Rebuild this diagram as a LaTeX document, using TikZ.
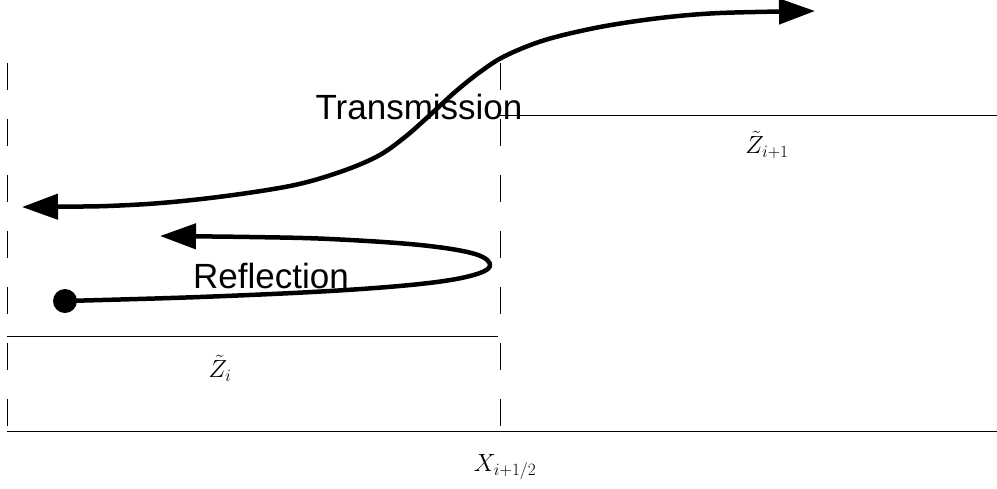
\documentclass[tikz,border=0pt]{standalone}
\usepackage{fontspec}
\newfontfamily\labelfont{Liberation Sans}
\usetikzlibrary{arrows.meta}

\begin{document}
\begin{tikzpicture}[x=1pt,y=-1pt,
        wave/.style={line width=4.5pt,line join=round,
                     {Triangle[length=36pt,width=25pt]}-{Triangle[length=36pt,width=25pt]}},
        back/.style={line width=4.5pt,line join=round,-{Triangle[length=36pt,width=25pt]}},
        wall/.style={line width=0.9pt,dash pattern=on 27pt off 29pt},
        level/.style={line width=0.8pt},
        word/.style={font=\labelfont\fontsize{35}{35}\selectfont,anchor=base,inner sep=0pt},
        sym/.style={font=\fontsize{27}{27}\selectfont,inner sep=0pt},
        dot/.style={circle,fill,minimum size=24pt,inner sep=0pt}]
        \useasboundingbox (0,0) rectangle (997,488);
        % walls and levels
        \coordinate (wl) at (7,63);
        \coordinate (wlb) at (7,431);
        \coordinate (wm) at (500,63);
        \coordinate (wmb) at (500,431);
        \coordinate (br) at (997,431);
        \coordinate (ll) at (7,336);
        \coordinate (lr) at (498,336);
        \coordinate (rl) at (500,115);
        \coordinate (rr) at (997,115);
        \draw[wall] (wl) -- (wlb);
        \draw[wall] (wm) -- (wmb);
        \draw[level] (wlb) -- (br);
        \draw[level] (ll) -- (lr);
        \draw[level] (rl) -- (rr);
        % labels
        \node[word] (trans) at (419,119) {Transmission};
        \node[word] (refl) at (271,288) {Reflection};
        \node[sym] (zr) at (767,145) {$\tilde{Z}_{i+1}$};
        \node[sym] (zl) at (220,368) {$\tilde{Z}_i$};
        \node[sym] (xh) at (505,467) {$X_{i+1/2}$};
        % waves
        \draw[wave] plot[smooth,tension=0.55] coordinates {(22,207) (130,205) (210,198)
            (290,186) (340,172) (378,156) (405,137) (430,115) (455,92) (480,72)
            (505,56) (545,40) (600,27) (660,18) (720,13) (815,11)};
        \node[dot] (start) at (65,301) {};
        \draw[back] plot[smooth,tension=0.6] coordinates {(65,301) (200,297) (330,291)
            (420,284) (470,276) (490,266) (475,254) (420,245) (330,239) (250,237) (160,236)};
      \end{tikzpicture}
\end{document}
